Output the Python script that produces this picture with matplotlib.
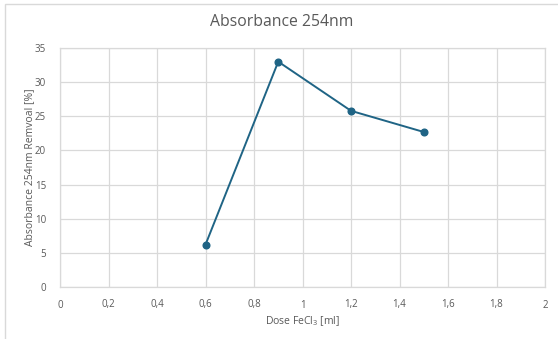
import matplotlib
matplotlib.use("Agg")
import matplotlib.pyplot as plt
from matplotlib.patches import Rectangle
from matplotlib.ticker import FuncFormatter

# Dose of FeCl3 and resulting absorbance removal
dose_ml = [0.6, 0.9, 1.2, 1.5]
removal_pct = [6.2, 33.0, 25.8, 22.7]

x_ticks = [0, 0.2, 0.4, 0.6, 0.8, 1.0, 1.2, 1.4, 1.6, 1.8, 2.0]
y_ticks = [0, 5, 10, 15, 20, 25, 30, 35]

FONT = "Open Sans"
plt.rcParams["font.family"] = [FONT, "DejaVu Sans"]
plt.rcParams["mathtext.fontset"] = "custom"
plt.rcParams["mathtext.rm"] = FONT
plt.rcParams["mathtext.it"] = FONT

W, H = 558, 339
fig = plt.figure(figsize=(W / 100, H / 100), dpi=100)
fig.patch.set_facecolor("white")

# chart frame
fig.add_artist(Rectangle((5 / W, -0.1), 1.2, (H - 4) / H + 0.1,
                         transform=fig.transFigure, fill=False,
                         edgecolor="#d9d9d9", linewidth=1.0))

left, right, top, bottom = 60, 545, 48, 287
ax = fig.add_axes([left / W, 1 - bottom / H, (right - left) / W, (bottom - top) / H])

line_color = "#1f6485"
ax.plot(dose_ml, removal_pct, color=line_color, linewidth=1.4,
        marker="o", markersize=4.8, zorder=3)

ax.set_xlim(0, 2)
ax.set_ylim(0, 35)
ax.set_xticks(x_ticks)
ax.set_yticks(y_ticks)
ax.xaxis.set_major_formatter(FuncFormatter(lambda v, p: f"{v:g}".replace(".", ",")))
ax.yaxis.set_major_formatter(FuncFormatter(lambda v, p: f"{v:g}"))

grid_c = "#d9d9d9"
ax.grid(True, color=grid_c, linewidth=0.9)
ax.set_axisbelow(True)
for s in ax.spines.values():
    s.set_color(grid_c)
    s.set_linewidth(0.9)
ax.tick_params(length=0, colors="#595959", labelsize=7, pad=9)
ax.tick_params(axis="y", pad=10)

ax.set_xlabel("Dose FeCl$_3$ [ml]", fontsize=7.5, color="#595959", labelpad=3)
ax.set_ylabel("Absorbance 254nm Remvoal [%]", fontsize=7.5, color="#595959", labelpad=0)

fig.text(282 / W, 1 - 22 / H, "Absorbance 254nm",
         ha="center", va="center", fontsize=11.3, color="#595959")

fig.savefig("out.png", dpi=100)
